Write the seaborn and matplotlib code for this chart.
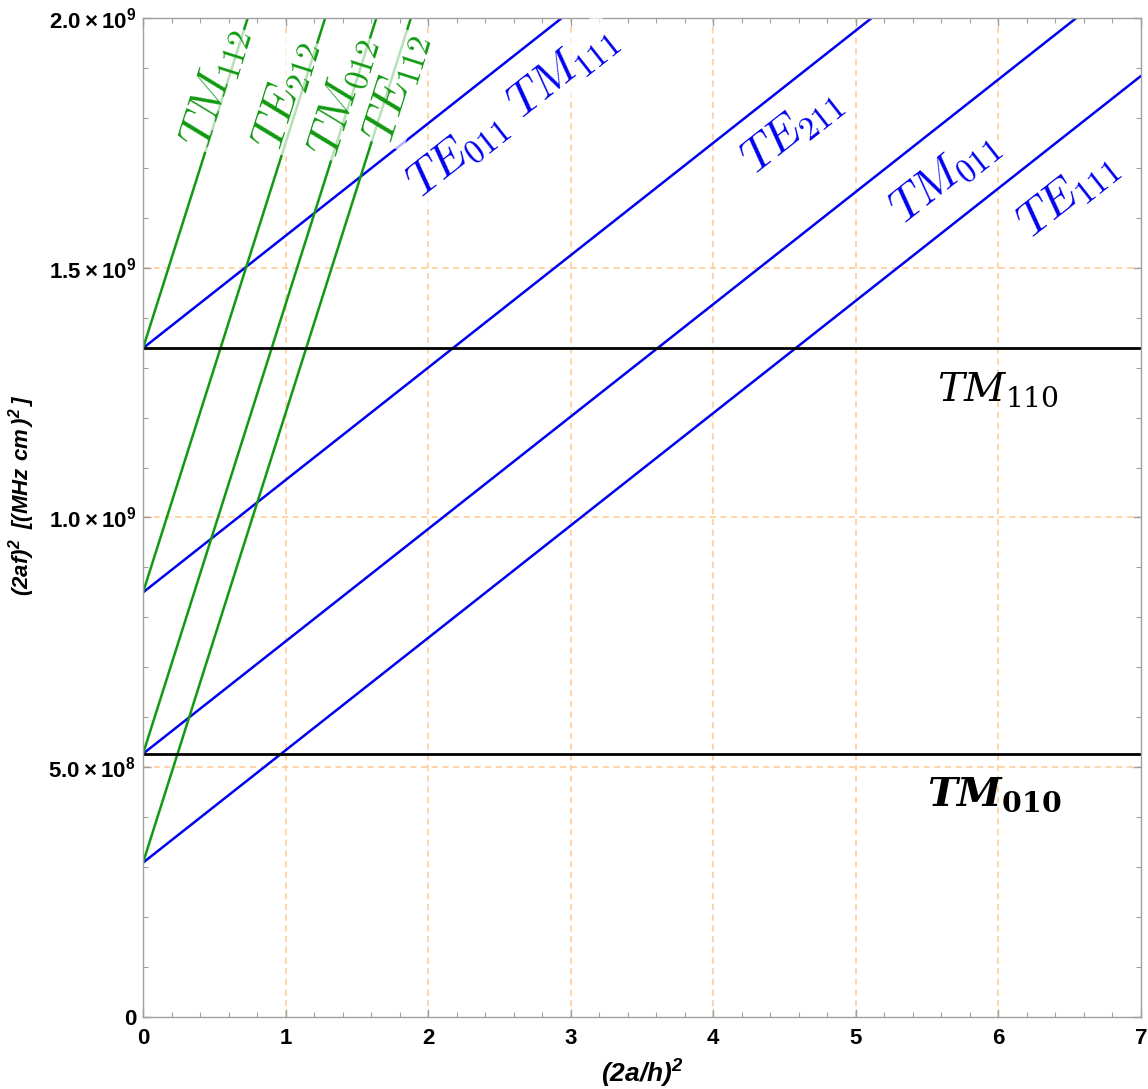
import numpy as np
import matplotlib.pyplot as plt
import matplotlib.ticker as mticker
import seaborn as sns

# (2a/h)^2 axis range and line end points
x_ends = [0, 7]

blue_modes = ["TE111", "TM011", "TE211", "TE011/TM111"]
blue_y0 = [3.09e8, 5.27e8, 8.50e8, 1.339e9]
blue_y7 = [1.884e9, 2.102e9, 2.425e9, 2.914e9]

green_modes = ["TE112", "TM012", "TE212", "TM112"]
green_y0 = [3.09e8, 5.27e8, 8.50e8, 1.339e9]
green_y7 = [6.609e9, 6.827e9, 7.150e9, 7.639e9]

flat_modes = ["TM010", "TM110"]
flat_y = [5.27e8, 1.339e9]

# labels, with their centres in data units
blue_labels = [r"$TE_{111}$", r"$TM_{011}$", r"$TE_{211}$", r"$TE_{011}\ TM_{111}$"]
blue_lab_x = [6.49, 5.62, 4.55, 2.59]
blue_lab_y = [1.646e9, 1.682e9, 1.774e9, 1.814e9]

green_labels = [r"$TE_{112}$", r"$TM_{012}$", r"$TE_{212}$", r"$TM_{112}$"]
green_lab_x = [1.78, 1.40, 1.00, 0.505]
green_lab_y = [1.86e9, 1.842e9, 1.846e9, 1.86e9]

flat_labels = [r"$\boldsymbol{TM}_{\mathbf{010}}$", r"$TM_{110}$"]
flat_lab_x = [5.97, 6.0]
flat_lab_y = [0.444e9, 1.255e9]

x_ticks = [0, 1, 2, 3, 4, 5, 6, 7]
y_ticks = [0, 5e8, 1e9, 1.5e9, 2e9]
y_tick_labels = ["0", r"$\mathregular{5.0\times10^{8}}$", r"$\mathregular{1.0\times10^{9}}$",
                 r"$\mathregular{1.5\times10^{9}}$", r"$\mathregular{2.0\times10^{9}}$"]

BLUE = "#0000f0"
GREEN = "#119911"
GRID = "#ffc890"
FRAME = "#a0a0a0"

sns.set_style("white")
plt.rcParams["font.family"] = ["Liberation Sans", "DejaVu Sans"]

fig = plt.figure(figsize=(11.48, 10.89), dpi=100)
ax = fig.add_axes([0.1246, 0.0661, 0.8693, 0.9174])
ax.set_xlim(0, 7)
ax.set_ylim(0, 2e9)

# dashed grid
for gx in x_ticks[1:-1]:
    ax.axvline(gx, color=GRID, lw=1.1, ls=(0, (4, 3)), zorder=0)
for gy in y_ticks[1:-1]:
    ax.axhline(gy, color=GRID, lw=1.1, ls=(0, (4, 3)), zorder=0)

for y0, y7 in zip(blue_y0, blue_y7):
    sns.lineplot(x=x_ends, y=[y0, y7], color=BLUE, lw=1.8, ax=ax, zorder=2)
for y0, y7 in zip(green_y0, green_y7):
    sns.lineplot(x=x_ends, y=[y0, y7], color=GREEN, lw=1.8, ax=ax, zorder=2)
for y in flat_y:
    sns.lineplot(x=x_ends, y=[y, y], color="black", lw=2.0, ax=ax, zorder=2)


def screen_angle(slope):
    """Angle on screen of a line with the given data slope."""
    p0 = ax.transData.transform((0, 0))
    p1 = ax.transData.transform((1, slope))
    return np.degrees(np.arctan2(p1[1] - p0[1], p1[0] - p0[0]))


bg = dict(boxstyle="square,pad=0.05", fc="white", ec="none", alpha=0.7)

for lab, lx, ly, y0, y7 in zip(blue_labels, blue_lab_x, blue_lab_y, blue_y0, blue_y7):
    ax.text(lx, ly, lab, color=BLUE, fontsize=34, math_fontfamily="cm",
            rotation=screen_angle((y7 - y0) / 7), rotation_mode="anchor",
            ha="center", va="center", bbox=bg, zorder=3)
for lab, lx, ly, y0, y7 in zip(green_labels, green_lab_x, green_lab_y, green_y0, green_y7):
    ax.text(lx, ly, lab, color=GREEN, fontsize=34, math_fontfamily="cm",
            rotation=screen_angle((y7 - y0) / 7), rotation_mode="anchor",
            ha="center", va="center", bbox=bg, zorder=3)
for lab, lx, ly in zip(flat_labels, flat_lab_x, flat_lab_y):
    ax.text(lx, ly, lab, color="black", fontsize=29, math_fontfamily="dejavuserif",
            ha="center", va="center", zorder=3)

# frame and ticks on all sides, pointing in
for sp in ax.spines.values():
    sp.set_visible(True)
    sp.set_color(FRAME)
    sp.set_linewidth(1.0)
ax.set_xticks(x_ticks)
ax.set_xticklabels([str(t) for t in x_ticks])
ax.set_yticks(y_ticks)
ax.set_yticklabels(y_tick_labels)
ax.xaxis.set_minor_locator(mticker.MultipleLocator(0.2))
ax.yaxis.set_minor_locator(mticker.MultipleLocator(1e8))
ax.tick_params(which="both", direction="in", color=FRAME, top=True, right=True,
               bottom=True, left=True)
ax.tick_params(which="major", length=6, width=1.0, labelsize=16, labelcolor="black")
ax.tick_params(axis="x", which="major", pad=8)
ax.tick_params(axis="y", which="major", pad=5)
ax.tick_params(which="minor", length=3.5, width=0.8)
for t in ax.get_xticklabels() + ax.get_yticklabels():
    t.set_fontweight("bold")

ax.set_xlabel(r"$\mathregular{(2a/h)^2}$", fontsize=19, fontweight="bold",
              fontstyle="italic", color="black")
ax.set_ylabel(r"$\mathregular{(2af)^2\ \,[(MHz\ cm\,)^2\,]}$", fontsize=16,
              fontweight="bold", fontstyle="italic", color="black")
ax.xaxis.set_label_coords(0.5, -0.041)
ax.yaxis.set_label_coords(-0.106, 0.5225)

fig.savefig("out.png", dpi=100)
